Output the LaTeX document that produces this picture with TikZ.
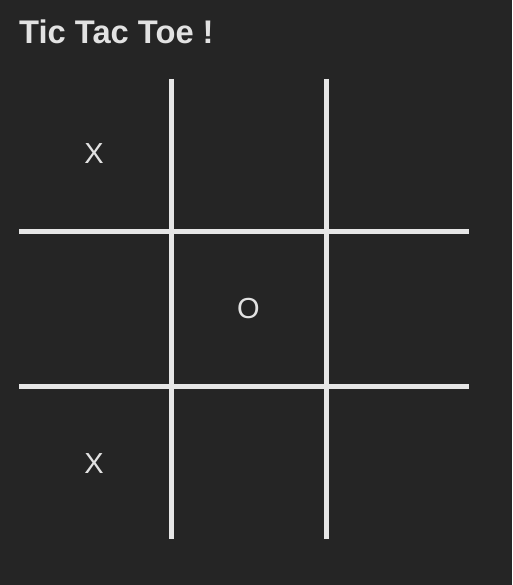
\documentclass[tikz,border=0pt]{standalone}
\usepackage{fontspec}
\setmainfont{Liberation Sans}
\definecolor{bgc}{HTML}{252525}
\definecolor{linec}{HTML}{E6E6E6}
\definecolor{textc}{HTML}{E2E2E2}
\begin{document}
\begin{tikzpicture}[x=1pt,y=-1pt,
  gridline/.style={draw=linec,line width=5pt,line cap=butt},
  cellmark/.style={text=textc,font=\fontsize{29}{29}\selectfont,inner sep=0pt,anchor=center},
  titletext/.style={text=textc,font=\fontsize{32.7}{32.7}\selectfont\bfseries,inner sep=0pt,anchor=base west}]
\fill[bgc] (0,0) rectangle (512,585);
\useasboundingbox (0,0) rectangle (512,585);
\node[titletext] (title) at (19,44) {Tic Tac Toe !};
\coordinate (v1t) at (171.5,79);
\coordinate (v1b) at (171.5,539);
\coordinate (v2t) at (326.5,79);
\coordinate (v2b) at (326.5,539);
\coordinate (h1l) at (19,231.5);
\coordinate (h1r) at (469,231.5);
\coordinate (h2l) at (19,386.5);
\coordinate (h2r) at (469,386.5);
\draw[gridline] (v1t) -- (v1b);
\draw[gridline] (v2t) -- (v2b);
\draw[gridline] (h1l) -- (h1r);
\draw[gridline] (h2l) -- (h2r);
\node[cellmark] (c11) at (94,154) {X};
\node[cellmark] (c22) at (248.5,309) {O};
\node[cellmark] (c31) at (94,464) {X};
\end{tikzpicture}
\end{document}
